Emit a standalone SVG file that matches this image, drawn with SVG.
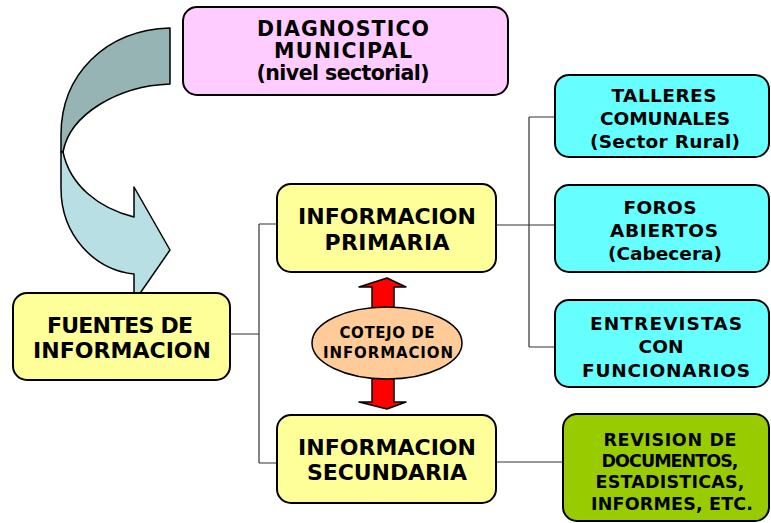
<svg xmlns="http://www.w3.org/2000/svg" width="771" height="523" viewBox="0 0 771 523">
<style>
.box{stroke:#000;stroke-width:2}
.t{font-family:"DejaVu Sans","Verdana",sans-serif;font-weight:bold;text-anchor:middle;fill:#000}
.ln{fill:none;stroke:#333;stroke-width:1.2}
.arr{stroke:#000;stroke-width:1.5;stroke-linejoin:round}
</style>
<rect width="771" height="523" fill="#fff"/>
<g id="curved-arrow">
<path class="arr" fill="#96B4B4" d="M170,28 C105,30 61,75 61,135 L61,152 L63,152 C70,114 118,86 170,84 Z"/>
<path class="arr" fill="#B8E0E4" d="M61,152 L61,188 C61,236 95,270 134,274 L134,302 L170,250 L134,187 L134,217 C98,208 70,185 63,152 Z"/>
</g>
<g id="connectors">
<path class="ln" d="M230,334 H259 M259,224 V463 M259,224 H277 M259,463 H277"/>
<path class="ln" d="M496,225 H555 M529,117 V347 M529,117 H555 M529,347 H555"/>
<path class="ln" d="M496,462 H563"/>
</g>
<g id="diagnostico">
<rect class="box" x="183" y="7" width="325" height="88" rx="14" fill="#FFCCFF"/>
<text class="t" font-size="20.5" x="343" y="36" textLength="172" lengthAdjust="spacing">DIAGNOSTICO</text>
<text class="t" font-size="20.5" x="343" y="58" textLength="138" lengthAdjust="spacing">MUNICIPAL</text>
<text class="t" font-size="20.5" x="343" y="80" textLength="173" lengthAdjust="spacing">(nivel sectorial)</text>
</g>
<g id="fuentes">
<rect class="box" x="13" y="293" width="217" height="87" rx="14" fill="#FFFF99"/>
<text class="t" font-size="22" x="120" y="333" textLength="146" lengthAdjust="spacing">FUENTES DE</text>
<text class="t" font-size="22" x="122" y="358" textLength="178" lengthAdjust="spacing">INFORMACION</text>
</g>
<g id="primaria">
<rect class="box" x="277" y="184" width="219" height="88" rx="14" fill="#FFFF99"/>
<text class="t" font-size="22" x="387" y="224" textLength="178" lengthAdjust="spacing">INFORMACION</text>
<text class="t" font-size="22" x="387" y="250" textLength="125" lengthAdjust="spacing">PRIMARIA</text>
</g>
<g id="secundaria">
<rect class="box" x="277" y="415" width="219" height="88" rx="14" fill="#FFFF99"/>
<text class="t" font-size="22" x="387" y="455" textLength="178" lengthAdjust="spacing">INFORMACION</text>
<text class="t" font-size="22" x="387" y="480" textLength="160" lengthAdjust="spacing">SECUNDARIA</text>
</g>
<g id="cotejo">
<path class="arr" fill="#FF0000" d="M372,310 V287 H359 L387,278 L406,287 H394 V310 Z"/>
<path class="arr" fill="#FF0000" d="M372,378 V402 H359 L387,409 L406,402 H394 V378 Z"/>
<ellipse cx="387" cy="343" rx="75" ry="36" fill="#FFCC99" stroke="#000" stroke-width="1.5"/>
<text class="t" font-size="15" x="387" y="338" textLength="95" lengthAdjust="spacing">COTEJO DE</text>
<text class="t" font-size="15" x="388" y="358" textLength="130" lengthAdjust="spacing">INFORMACION</text>
</g>
<g id="talleres">
<rect class="box" x="555" y="75" width="214" height="82" rx="14" fill="#66FFFF"/>
<text class="t" font-size="18.5" x="664" y="102" textLength="105" lengthAdjust="spacing">TALLERES</text>
<text class="t" font-size="18.5" x="665" y="125" textLength="130" lengthAdjust="spacing">COMUNALES</text>
<text class="t" font-size="18.5" x="665" y="148" textLength="150" lengthAdjust="spacing">(Sector Rural)</text>
</g>
<g id="foros">
<rect class="box" x="555" y="185" width="214" height="87" rx="14" fill="#66FFFF"/>
<text class="t" font-size="18.5" x="660" y="214" textLength="73" lengthAdjust="spacing">FOROS</text>
<text class="t" font-size="18.5" x="664" y="237" textLength="108" lengthAdjust="spacing">ABIERTOS</text>
<text class="t" font-size="18.5" x="665" y="260" textLength="114" lengthAdjust="spacing">(Cabecera)</text>
</g>
<g id="entrevistas">
<rect class="box" x="555" y="300" width="214" height="87" rx="14" fill="#66FFFF"/>
<text class="t" font-size="18.5" x="666" y="330" textLength="152" lengthAdjust="spacing">ENTREVISTAS</text>
<text class="t" font-size="18.5" x="661" y="353" textLength="45" lengthAdjust="spacing">CON</text>
<text class="t" font-size="18.5" x="666" y="377" textLength="168" lengthAdjust="spacing">FUNCIONARIOS</text>
</g>
<g id="revision">
<rect class="box" x="563" y="414" width="206" height="107" rx="14" fill="#99CC00"/>
<text class="t" font-size="17.5" x="670" y="446" textLength="133" lengthAdjust="spacing">REVISION DE</text>
<text class="t" font-size="17.5" x="670" y="467" textLength="137" lengthAdjust="spacing">DOCUMENTOS,</text>
<text class="t" font-size="17.5" x="670" y="488" textLength="149" lengthAdjust="spacing">ESTADISTICAS,</text>
<text class="t" font-size="17.5" x="672" y="510" textLength="162" lengthAdjust="spacing">INFORMES, ETC.</text>
</g>
</svg>
